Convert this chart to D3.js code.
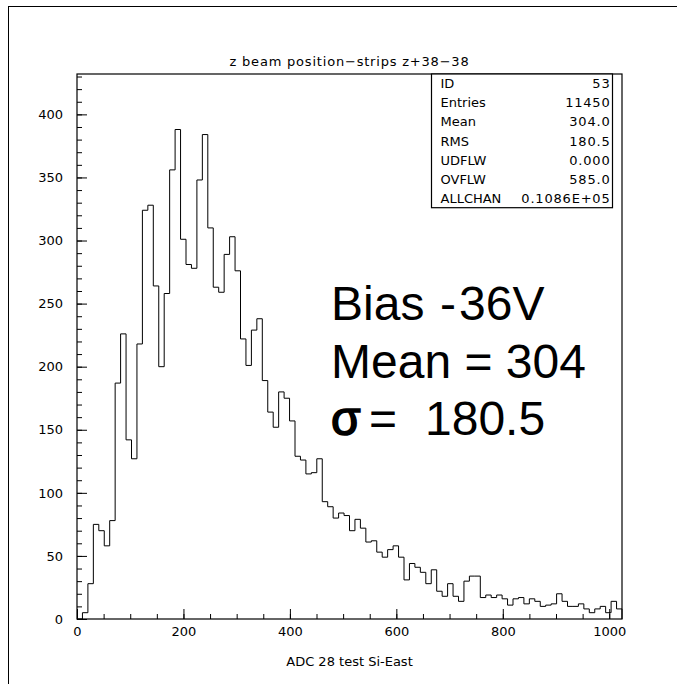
<!DOCTYPE html>
<html>

<head>
  <title>ADC 28 test Si-East</title>
  <meta charset="utf-8" />
  <script src="https://d3js.org/d3.v7.min.js"></script>
  <style>
    body { margin: 0; background: #fff; }
    svg text { fill: #000; }
    .paw { font-family: "DejaVu Sans", sans-serif; font-size: 13px; }
    .wide { letter-spacing: 0.8px; }
    .big { font-family: "Liberation Sans", Arial, sans-serif; font-size: 48px; }
  </style>
</head>

<body>
  <div id="chart"></div>
  <script type="text/javascript">

    // histogram contents, 100 channels over 0..1024
    var counts = [
      0, 5, 28, 75, 70, 58, 78, 187, 226, 142,
      127, 218, 324, 328, 264, 200, 258, 356, 388, 301,
      281, 278, 348, 384, 310, 263, 259, 289, 303, 276,
      222, 201, 229, 238, 189, 164, 152, 180, 175, 157,
      129, 126, 115, 116, 127, 93, 89, 80, 84, 82,
      70, 79, 72, 61, 62, 53, 49, 55, 58, 49,
      31, 44, 41, 37, 28, 39, 22, 18, 28, 18,
      14, 30, 34, 34, 17, 19, 17, 19, 16, 11,
      16, 17, 12, 16, 14, 10, 11, 12, 20, 14,
      10, 10, 12, 8, 5, 8, 10, 5, 14, 8
    ]
    var xLimits = [0, 1024]
    var yLimits = [0, 432]
    var xMajor = [0, 200, 400, 600, 800, 1000]
    var yMajor = [0, 50, 100, 150, 200, 250, 300, 350, 400]

    var title = "z beam position\u2212strips z+38\u221238"
    var xTitle = "ADC 28 test Si-East"

    var statNames = ["ID", "Entries", "Mean", "RMS", "UDFLW", "OVFLW", "ALLCHAN"]
    var statValues = ["53", "11450", "304.0", "180.5", "0.000", "585.0", "0.1086E+05"]

    var noteBias = ["Bias", "-", "36V"]
    var noteMean = "Mean = 304"
    var noteSigma = "180.5"

    var W = 677, H = 684
    var svg = d3.select("#chart").append("svg")
      .attr("width", W).attr("height", H)

    // outer picture frame
    svg.append("rect")
      .attr("x", 8.5).attr("y", 6.5)
      .attr("width", 700).attr("height", 700)
      .attr("fill", "none").attr("stroke", "#000").attr("stroke-width", 1)

    var x = d3.scaleLinear().domain(xLimits).range([77, 622])
    var y = d3.scaleLinear().domain(yLimits).range([619, 74])

    /* ticks point into the frame like PAW does */
    var yMinorAxis = d3.axisLeft(y)
      .tickValues(d3.range(0, 431, 10))
      .tickSize(-5).tickSizeOuter(0).tickFormat("")
    var yAxis = d3.axisLeft(y)
      .tickValues(yMajor)
      .tickSize(-10).tickSizeOuter(0).tickPadding(14)
      .tickFormat(d3.format("d"))

    var xMinorAxis = d3.axisBottom(x)
      .tickValues(d3.range(0, 1024, 50))
      .tickSize(-5).tickSizeOuter(0).tickFormat("")
    var xAxis = d3.axisBottom(x)
      .tickValues(xMajor)
      .tickSize(-10).tickSizeOuter(0).tickPadding(8)
      .tickFormat(d3.format("d"))

    var gy1 = svg.append("g").attr("transform", "translate(77,0)").call(yMinorAxis)
    var gy2 = svg.append("g").attr("transform", "translate(77,0)").call(yAxis)
    var gx1 = svg.append("g").attr("transform", "translate(0,619)").call(xMinorAxis)
    var gx2 = svg.append("g").attr("transform", "translate(0,619)").call(xAxis)

    ;[gy1, gy2, gx1, gx2].forEach(function (g) {
      g.select(".domain").remove()
      g.selectAll(".tick line").attr("stroke", "#000")
      g.selectAll("text")
        .attr("class", "paw")
        .attr("font-family", null).attr("font-size", null)
    })

    // histogram outline
    var step = (xLimits[1] - xLimits[0]) / counts.length
    var pts = [[xLimits[0], 0]]
    counts.forEach(function (c, i) {
      pts.push([xLimits[0] + i * step, c])
    })
    pts.push([xLimits[1], counts[counts.length - 1]])
    pts.push([xLimits[1], 0])

    var line = d3.line()
      .x(function (d) { return x(d[0]) })
      .y(function (d) { return y(d[1]) })
      .curve(d3.curveStepAfter)

    svg.append("path")
      .datum(pts)
      .attr("d", line)
      .attr("fill", "none")
      .attr("stroke", "#000")
      .attr("stroke-width", 1)

    // plot frame
    svg.append("rect")
      .attr("x", x(xLimits[0])).attr("y", y(yLimits[1]))
      .attr("width", x(xLimits[1]) - x(xLimits[0]))
      .attr("height", y(yLimits[0]) - y(yLimits[1]))
      .attr("fill", "none").attr("stroke", "#000").attr("stroke-width", 1.2)

    svg.append("text").attr("class", "paw wide")
      .attr("x", (x(xLimits[0]) + x(xLimits[1])) / 2).attr("y", 66)
      .attr("text-anchor", "middle")
      .text(title)

    svg.append("text").attr("class", "paw")
      .attr("x", (x(xLimits[0]) + x(xLimits[1])) / 2).attr("y", 666)
      .attr("text-anchor", "middle")
      .text(xTitle)

    // statistics box
    var boxX = 431.5, boxY = 74, boxW = 181, rowH = 19.1
    svg.append("rect")
      .attr("x", boxX).attr("y", boxY)
      .attr("width", boxW).attr("height", rowH * statNames.length)
      .attr("fill", "#fff").attr("stroke", "#000").attr("stroke-width", 1.2)

    var rows = svg.selectAll(".statrow")
      .data(statNames)
      .enter().append("g")
      .attr("transform", function (d, i) {
        return "translate(0," + (boxY + rowH * (i + 0.5) + 4.7) + ")"
      })
    rows.append("text").attr("class", "paw")
      .attr("x", boxX + 9)
      .text(function (d) { return d })
    rows.append("text").attr("class", "paw wide")
      .attr("x", boxX + boxW - 2)
      .attr("text-anchor", "end")
      .text(function (d, i) { return statValues[i] })

    // big annotation
    var bias = svg.append("text").attr("class", "big").attr("y", 320)
    bias.append("tspan").attr("x", 331).text(noteBias[0])
    bias.append("tspan").attr("x", 440).text(noteBias[1])
    bias.append("tspan").attr("x", 459).text(noteBias[2])
    svg.append("text").attr("class", "big")
      .attr("x", 331).attr("y", 377.5).text(noteMean)
    var sig = svg.append("text").attr("class", "big").attr("y", 435)
    sig.append("tspan").attr("x", 331)
      .attr("stroke", "#000").attr("stroke-width", 1.6)
      .text("\u03c3")
    sig.append("tspan").attr("x", 369).text("=")
    sig.append("tspan").attr("x", 425).text(noteSigma)

  </script>
</body>

</html>
